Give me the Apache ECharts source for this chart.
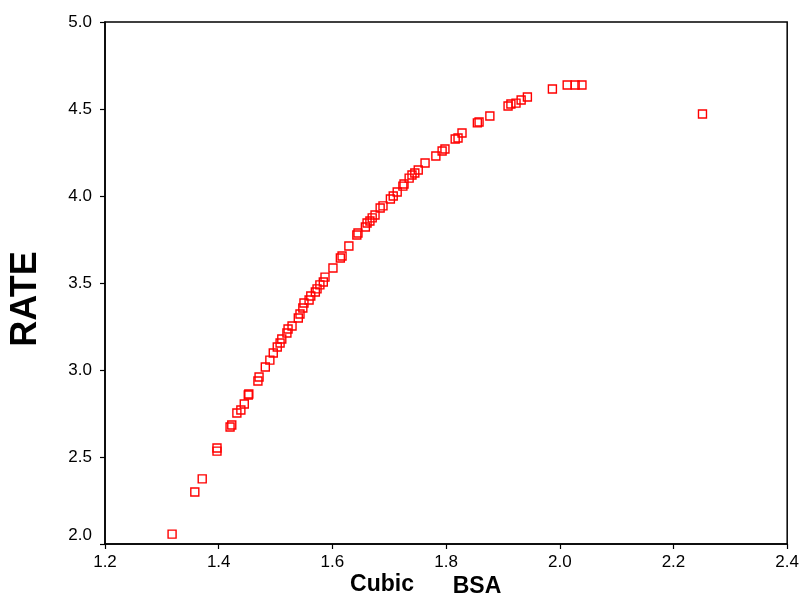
<!DOCTYPE html>
<html>
<head>
<meta charset="utf-8">
<script src="https://cdn.jsdelivr.net/npm/echarts@6/dist/echarts.min.js"></script>
<style>
  html, body { margin: 0; padding: 0; background: #fff; }
  #chart { width: 802px; height: 603px; }
</style>
</head>
<body>
<div id="chart"></div>
<script>
  // BSA (x) and RATE (y)
  const bsa = [
    1.318, 1.358, 1.371, 1.397, 1.397, 1.420, 1.423, 1.432, 1.439, 1.445,
    1.452, 1.453, 1.469, 1.471, 1.482, 1.490, 1.496, 1.503, 1.508, 1.511,
    1.520, 1.522, 1.529, 1.540, 1.543, 1.548, 1.550, 1.559, 1.562, 1.570,
    1.573, 1.578, 1.584, 1.587, 1.601, 1.614, 1.617, 1.629, 1.643, 1.645,
    1.658, 1.661, 1.666, 1.670, 1.675, 1.684, 1.689, 1.702, 1.707, 1.714,
    1.724, 1.726, 1.735, 1.740, 1.745, 1.751, 1.763, 1.782, 1.793, 1.798,
    1.816, 1.821, 1.828, 1.855, 1.858, 1.877, 1.909, 1.914, 1.923, 1.932,
    1.943, 1.987, 2.013, 2.027, 2.039, 2.251
  ]
  const rate = [
    2.057, 2.299, 2.374, 2.552, 2.534, 2.672, 2.684, 2.753, 2.770, 2.805,
    2.856, 2.862, 2.937, 2.960, 3.017, 3.057, 3.098, 3.132, 3.155, 3.178,
    3.213, 3.236, 3.253, 3.299, 3.322, 3.356, 3.385, 3.402, 3.425, 3.448,
    3.466, 3.489, 3.506, 3.534, 3.586, 3.644, 3.655, 3.713, 3.776, 3.787,
    3.822, 3.845, 3.856, 3.874, 3.891, 3.931, 3.943, 3.983, 4.000, 4.023,
    4.057, 4.069, 4.103, 4.121, 4.132, 4.149, 4.190, 4.230, 4.259, 4.270,
    4.328, 4.333, 4.362, 4.420, 4.425, 4.460, 4.517, 4.529, 4.534, 4.552,
    4.569, 4.615, 4.638, 4.638, 4.638, 4.471
  ]
  const xTicks = [1.2, 2.4, 0.2]   // min, max, step
  const yTicks = [2.0, 5.0, 0.5]

  const font = '"Liberation Sans", Arial, sans-serif'
  const chart = echarts.init(document.getElementById('chart'))

  function axisBase() {
    return {
      type: 'value',
      axisLine: { show: true, lineStyle: { color: '#000', width: 1.5 } },
      axisTick: { show: true, inside: false, length: 5, lineStyle: { color: '#000', width: 1.2 } },
      splitLine: { show: false },
      axisLabel: {
        color: '#000',
        fontFamily: font,
        fontSize: 17,
        formatter: v => v.toFixed(1)
      }
    }
  }

  const xAxis = axisBase()
  Object.assign(xAxis, { min: xTicks[0], max: xTicks[1], interval: xTicks[2] })
  xAxis.axisLabel.margin = 10

  const yAxis = axisBase()
  Object.assign(yAxis, { min: yTicks[0], max: yTicks[1], interval: yTicks[2] })
  yAxis.axisLabel.margin = 13
  yAxis.axisLabel.verticalAlignMinLabel = 'bottom'

  chart.setOption({
    animation: false,
    backgroundColor: '#fff',
    grid: {
      left: 105,
      right: 14,
      top: 22,
      bottom: 59,
      show: true,
      borderColor: '#000',
      borderWidth: 1.5,
      backgroundColor: 'transparent'
    },
    xAxis,
    yAxis,
    graphic: [
      {
        type: 'text',
        rotation: Math.PI / 2,
        style: {
          text: 'RATE',
          fill: '#000',
          font: 'bold 36px ' + font,
          textAlign: 'center',
          textVerticalAlign: 'middle'
        },
        position: [26, 299]
      },
      {
        type: 'text',
        style: {
          text: 'Cubic',
          fill: '#000',
          font: 'bold 23px ' + font,
          textAlign: 'center',
          textVerticalAlign: 'middle'
        },
        position: [382, 585]
      },
      {
        type: 'text',
        style: {
          text: 'BSA',
          fill: '#000',
          font: 'bold 23px ' + font,
          textAlign: 'center',
          textVerticalAlign: 'middle'
        },
        position: [477, 587]
      }
    ],
    series: [
      {
        type: 'scatter',
        symbol: 'rect',
        symbolSize: 8,
        itemStyle: {
          color: 'rgba(255,255,255,0)',
          borderColor: '#ff0000',
          borderWidth: 1.4,
          opacity: 1
        },
        data: bsa.map((x, i) => [x, rate[i]])
      }
    ]
  })
</script>
</body>
</html>
